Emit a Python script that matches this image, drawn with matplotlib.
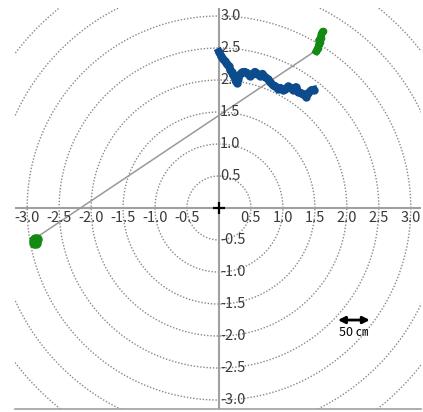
import matplotlib.pyplot as plt
import numpy as np

plt.rcParams['font.family'] = ['Noto Sans CJK JP', 'DejaVu Sans']

# Data
ticks = [-3.0, -2.5, -2.0, -1.5, -1.0, -0.5, 0.5, 1.0, 1.5, 2.0, 2.5, 3.0]
tick_labels = ["-3.0", "-2.5", "-2.0", "-1.5", "-1.0", "-0.5",
               "0.5", "1.0", "1.5", "2.0", "2.5", "3.0"]
radii = [0.5, 1.0, 1.5, 2.0, 2.5, 3.0, 3.5, 4.0, 4.5, 5.0]

# trajectory (blue)
traj_x = [0.00, 0.03, 0.06, 0.09, 0.12, 0.15, 0.18, 0.20, 0.22, 0.24, 0.26,
          0.28, 0.30, 0.33, 0.36, 0.40, 0.44, 0.48, 0.52, 0.56, 0.60, 0.64,
          0.68, 0.72, 0.76, 0.80, 0.84, 0.88, 0.92, 0.96, 1.00, 1.04, 1.08,
          1.12, 1.16, 1.20, 1.24, 1.28, 1.32, 1.36, 1.40, 1.44, 1.48]
traj_y = [2.44, 2.38, 2.33, 2.30, 2.25, 2.22, 2.16, 2.12, 2.08, 2.06, 1.98,
          1.96, 2.02, 2.09, 2.12, 2.13, 2.11, 2.06, 2.09, 2.13, 2.10, 2.07,
          2.10, 2.05, 2.02, 1.97, 1.92, 1.90, 1.86, 1.88, 1.84, 1.86, 1.90,
          1.88, 1.85, 1.89, 1.82, 1.80, 1.78, 1.74, 1.80, 1.84, 1.85]

# green clusters
green_up_x = [1.52, 1.55, 1.57, 1.56, 1.59, 1.60, 1.62, 1.58, 1.54]
green_up_y = [2.45, 2.50, 2.56, 2.62, 2.66, 2.72, 2.76, 2.60, 2.48]
green_lo_x = [-2.90, -2.87, -2.88, -2.85, -2.89, -2.86]
green_lo_y = [-0.50, -0.52, -0.48, -0.49, -0.54, -0.55]

# connecting line
line_x = [-2.87, 1.53]
line_y = [-0.47, 2.47]

fig = plt.figure(figsize=(4.23, 4.12), dpi=100)
ax = fig.add_axes([15 / 423, 3 / 412, 406 / 423, 401 / 412])
ax.set_xlim(-3.19, 3.16)
ax.set_ylim(-3.14, 3.125)

t = np.linspace(0, 2 * np.pi, 400)
for r in radii:
    ax.plot(r * np.cos(t), r * np.sin(t), linestyle=(0, (1, 1.3)),
            color='#888888', linewidth=1.0, zorder=1)

ax.axhline(0, color='#a0a0a0', linewidth=1.5, zorder=2)
ax.axvline(0, color='#a0a0a0', linewidth=1.5, zorder=2)
ax.plot([0], [0], marker='+', color='black', markersize=9, mew=1.6, zorder=3)

ax.plot(line_x, line_y, color='#999999', linewidth=1.1, zorder=3)

ax.plot(traj_x, traj_y, color='#0d4c8c', linewidth=5.5, marker='o',
        markersize=5, solid_joinstyle='round', zorder=4)
ax.plot(green_up_x, green_up_y, color='#138a13', linewidth=5, marker='o',
        markersize=4.5, zorder=4)
ax.plot(green_lo_x, green_lo_y, 'o', color='#138a13', markersize=6.5, zorder=4)

# tick labels
for v, s in zip(ticks, tick_labels):
    ax.text(v, -0.05, s, ha='center', va='top', fontsize=10.5, color='#3a3a3a')
    ax.text(0.02, v, s, ha='left', va='center', fontsize=10.5, color='#3a3a3a')

# scale arrow
ax.annotate('', xy=(1.86, -1.75), xytext=(2.36, -1.75),
            arrowprops=dict(arrowstyle='<|-|>', color='black', lw=2.0,
                            mutation_scale=10, shrinkA=0, shrinkB=0))
ax.text(2.11, -1.95, '50 ㎝', ha='center', va='center', fontsize=9)

ax.set_xticks([])
ax.set_yticks([])
for side in ['top', 'left', 'right']:
    ax.spines[side].set_visible(False)
ax.spines['bottom'].set_color('#a0a0a0')
ax.spines['bottom'].set_linewidth(1.2)

fig.savefig('out.png', dpi=100)
